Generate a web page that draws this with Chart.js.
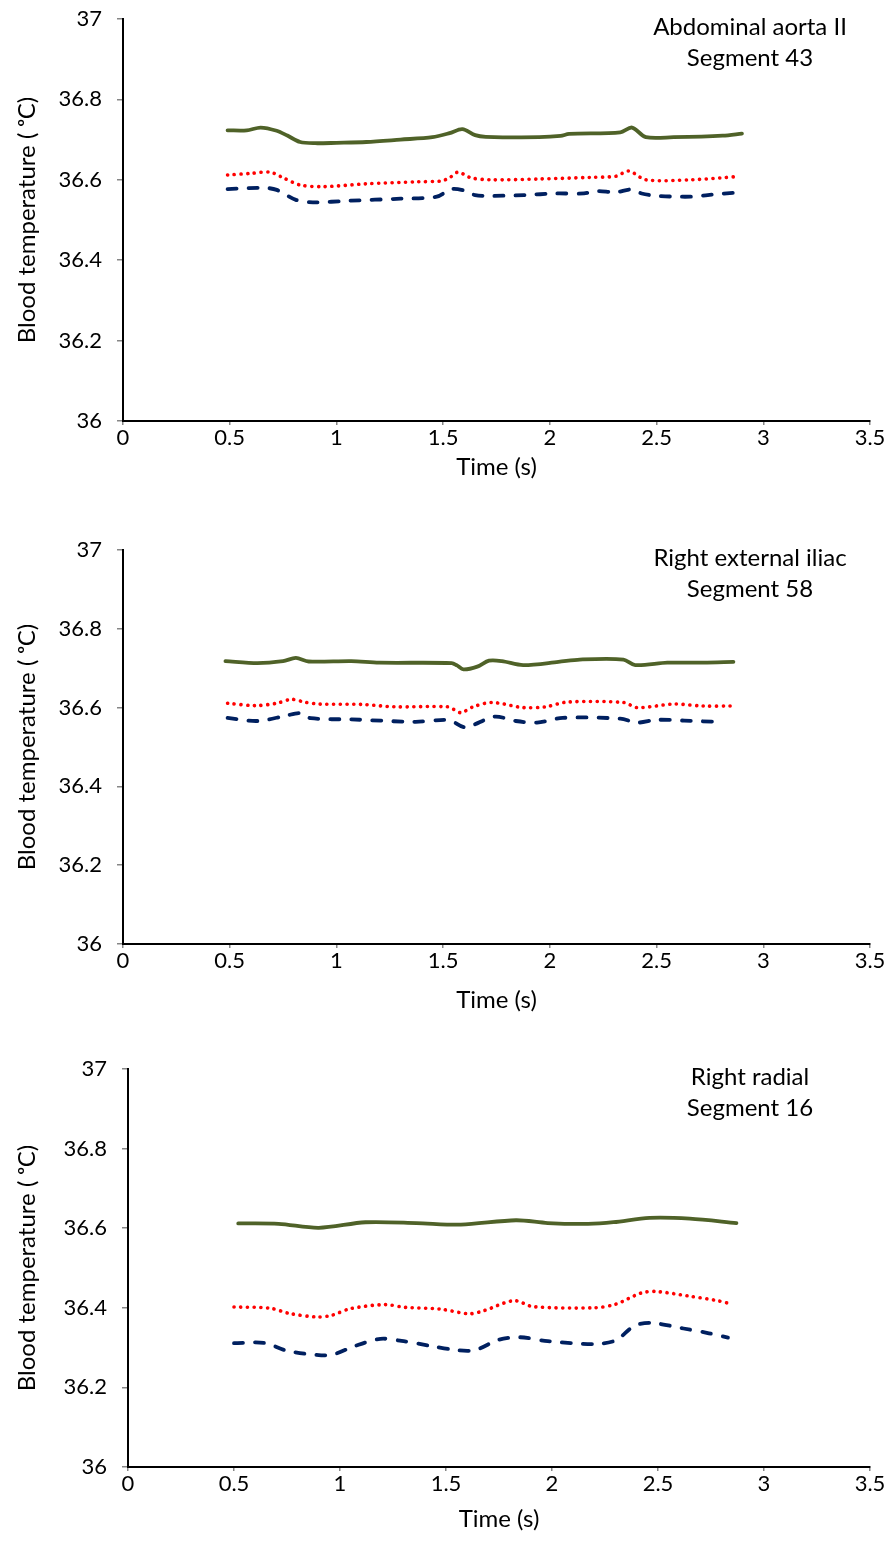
<!DOCTYPE html>
<html><head><meta charset="utf-8">
<script src="https://cdn.jsdelivr.net/npm/chart.js@4.4.1/dist/chart.umd.min.js"></script>
<style>
html,body{margin:0;padding:0;background:#fff;width:893px;height:1563px;overflow:hidden}
.panel{position:absolute;left:0;width:893px}
canvas{display:block}
</style></head><body>
<div class="panel" style="top:0px"><canvas id="c1" width="893" height="490"></canvas></div>
<div class="panel" style="top:520px"><canvas id="c2" width="893" height="500"></canvas></div>
<div class="panel" style="top:1040px"><canvas id="c3" width="893" height="510"></canvas></div>
<script>
// ---------- data ----------
const xTicks = [0, 0.5, 1, 1.5, 2, 2.5, 3, 3.5];
const yTicks = [36, 36.2, 36.4, 36.6, 36.8, 37];
const seriesNames = ['Solid', 'Dotted', 'Dashed'];
const panelTitles = [
  ['Abdominal aorta II', 'Segment 43'],
  ['Right external iliac', 'Segment 58'],
  ['Right radial', 'Segment 16']
];

// Panel 1 — Abdominal aorta II, Segment 43
const p1GreenT = [0.49,0.58,0.645,0.72,0.77,0.83,0.90,1.00,1.14,1.30,1.45,1.53,1.59,1.65,1.70,1.95,2.05,2.09,2.33,2.385,2.45,2.58,2.81,2.90];
const p1GreenV = [36.723,36.723,36.730,36.722,36.710,36.694,36.691,36.692,36.694,36.700,36.706,36.716,36.726,36.711,36.707,36.706,36.709,36.714,36.718,36.730,36.706,36.706,36.710,36.715];
const p1RedT = [0.49,0.60,0.69,0.75,0.83,0.94,1.14,1.38,1.49,1.53,1.57,1.63,1.72,1.95,2.19,2.31,2.37,2.45,2.66,2.88];
const p1RedV = [36.612,36.616,36.619,36.605,36.587,36.583,36.590,36.595,36.597,36.605,36.619,36.605,36.600,36.602,36.606,36.609,36.622,36.600,36.600,36.608];
const p1NavyT = [0.49,0.66,0.72,0.81,0.89,1.06,1.30,1.47,1.54,1.60,1.65,1.72,1.88,2.03,2.16,2.22,2.31,2.38,2.43,2.50,2.66,2.74,2.89];
const p1NavyV = [36.577,36.580,36.575,36.550,36.544,36.548,36.553,36.558,36.577,36.573,36.562,36.560,36.562,36.566,36.566,36.572,36.569,36.576,36.566,36.560,36.558,36.562,36.569];

// Panel 2 — Right external iliac, Segment 58
const p2GreenT = [0.48,0.63,0.75,0.81,0.87,1.07,1.20,1.54,1.565,1.595,1.66,1.715,1.775,1.875,2.04,2.14,2.345,2.40,2.55,2.72,2.86];
const p2GreenV = [36.718,36.713,36.718,36.726,36.717,36.718,36.714,36.713,36.707,36.697,36.704,36.719,36.718,36.708,36.716,36.722,36.722,36.708,36.714,36.714,36.716];
const p2RedT = [0.49,0.62,0.72,0.79,0.85,0.92,1.12,1.27,1.52,1.555,1.585,1.64,1.73,1.875,1.98,2.08,2.345,2.41,2.58,2.72,2.85];
const p2RedV = [36.611,36.605,36.611,36.621,36.614,36.609,36.608,36.602,36.602,36.594,36.587,36.602,36.613,36.600,36.602,36.614,36.613,36.600,36.609,36.604,36.604];
const p2NavyT = [0.49,0.63,0.76,0.83,0.88,1.07,1.37,1.505,1.54,1.605,1.74,1.84,1.94,2.06,2.33,2.41,2.50,2.63,2.78];
const p2NavyV = [36.574,36.566,36.579,36.586,36.573,36.570,36.564,36.569,36.566,36.550,36.577,36.566,36.562,36.574,36.572,36.562,36.569,36.567,36.564];

// Panel 3 — Right radial, Segment 16
const p3GreenT = [0.52,0.71,0.90,1.12,1.36,1.57,1.83,1.98,2.17,2.29,2.46,2.65,2.87];
const p3GreenV = [36.612,36.611,36.601,36.615,36.613,36.609,36.620,36.613,36.611,36.615,36.626,36.624,36.613];
const p3RedT = [0.50,0.67,0.76,0.89,0.96,1.05,1.21,1.31,1.47,1.61,1.68,1.82,1.91,2.20,2.30,2.42,2.49,2.64,2.78,2.85];
const p3RedV = [36.402,36.399,36.386,36.377,36.381,36.398,36.408,36.401,36.397,36.385,36.393,36.418,36.403,36.400,36.409,36.437,36.441,36.430,36.418,36.409];
const p3NavyT = [0.50,0.64,0.75,0.90,0.97,1.07,1.19,1.29,1.42,1.56,1.64,1.75,1.85,1.98,2.20,2.30,2.39,2.47,2.62,2.74,2.83];
const p3NavyV = [36.311,36.312,36.292,36.281,36.283,36.304,36.322,36.317,36.305,36.293,36.294,36.320,36.326,36.316,36.309,36.318,36.355,36.362,36.348,36.336,36.325];

// ---------- styling / layout ----------
const FONT = 'Lato, "Open Sans", "DejaVu Sans", sans-serif';
const GREEN = '#4F6228', RED = '#FF0000', NAVY = '#002060';

const pts = (t, v) => t.map((x, i) => ({x: x, y: v[i]}));
const fmt = v => String(Math.round(v * 10) / 10);

const notePlugin = {
  id: 'note',
  afterDraw(chart, args, opts) {
    const {ctx, chartArea} = chart;
    ctx.save();
    ctx.font = opts.font;
    ctx.fillStyle = '#000';
    ctx.textAlign = 'center';
    ctx.textBaseline = 'middle';
    opts.lines.forEach((t, i) => ctx.fillText(t, opts.x, chartArea.top + opts.dy + i * opts.lh));
    ctx.restore();
  }
};

function makeChart(id, series, titleLines, lay) {
  const ds = [
    {label: seriesNames[0], data: pts(series[0][0], series[0][1]), borderColor: GREEN, borderWidth: 3.8, borderCapStyle: 'round', borderJoinStyle: 'round'},
    {label: seriesNames[1], data: pts(series[1][0], series[1][1]), borderColor: RED, borderWidth: 3.6, borderDash: [0.1, 6.6], borderCapStyle: 'round'},
    {label: seriesNames[2], data: pts(series[2][0], series[2][1]), borderColor: NAVY, borderWidth: 3.8, borderDash: [9, 12], borderCapStyle: 'round'}
  ].map(d => Object.assign(d, {pointRadius: 0, fill: false, tension: 0.3, backgroundColor: d.borderColor}));

  return new Chart(document.getElementById(id), {
    type: 'line',
    data: {datasets: ds},
    options: {
      responsive: false,
      animation: false,
      events: [],
      layout: {padding: {top: lay.padTop, right: 23, left: 0, bottom: 0}},
      plugins: {
        legend: {display: false},
        tooltip: {enabled: false},
        note: {lines: titleLines, font: '24px ' + FONT, x: 750, dy: 8, lh: 31}
      },
      scales: {
        x: {
          type: 'linear', min: xTicks[0], max: xTicks[xTicks.length - 1],
          afterBuildTicks: s => { s.ticks = xTicks.map(v => ({value: v})); },
          afterFit: s => { s.height = lay.xHeight; },
          ticks: {color: '#000', font: {family: FONT, size: 22}, padding: 0, maxRotation: 0, autoSkip: false, callback: fmt},
          grid: {display: true, drawOnChartArea: false, drawTicks: true, tickLength: 4, color: '#868686', lineWidth: 1.5},
          border: {display: true, color: '#000', width: 2},
          title: {display: true, text: 'Time (s)', color: '#000', font: {family: FONT, size: 24}, padding: {top: 0, bottom: lay.xTitlePad}}
        },
        y: {
          type: 'linear', min: yTicks[0], max: yTicks[yTicks.length - 1],
          afterBuildTicks: s => { s.ticks = yTicks.map(v => ({value: v})); },
          afterFit: s => { s.width = lay.yWidth; s.paddingTop = 0; s.paddingBottom = 0; },
          ticks: {color: '#000', font: {family: FONT, size: 22}, padding: 15, autoSkip: false, callback: fmt},
          grid: {display: true, drawOnChartArea: false, drawTicks: true, tickLength: 6, color: '#868686', lineWidth: 1.5},
          border: {display: true, color: '#000', width: 2},
          title: {display: true, text: 'Blood temperature ( \u1D52C)', color: '#000', font: {family: FONT, size: 24}, padding: {top: 12.6, bottom: 0}}
        }
      }
    },
    plugins: [notePlugin]
  });
}

makeChart('c1', [[p1GreenT, p1GreenV], [p1RedT, p1RedV], [p1NavyT, p1NavyV]], panelTitles[0],
  {padTop: 19, xHeight: 69, yWidth: 123, xTitlePad: 8.6});
makeChart('c2', [[p2GreenT, p2GreenV], [p2RedT, p2RedV], [p2NavyT, p2NavyV]], panelTitles[1],
  {padTop: 30, xHeight: 76, yWidth: 123, xTitlePad: 5.6});
makeChart('c3', [[p3GreenT, p3GreenV], [p3RedT, p3RedV], [p3NavyT, p3NavyV]], panelTitles[2],
  {padTop: 29, xHeight: 83, yWidth: 128, xTitlePad: 16.6});
</script>
</body></html>
